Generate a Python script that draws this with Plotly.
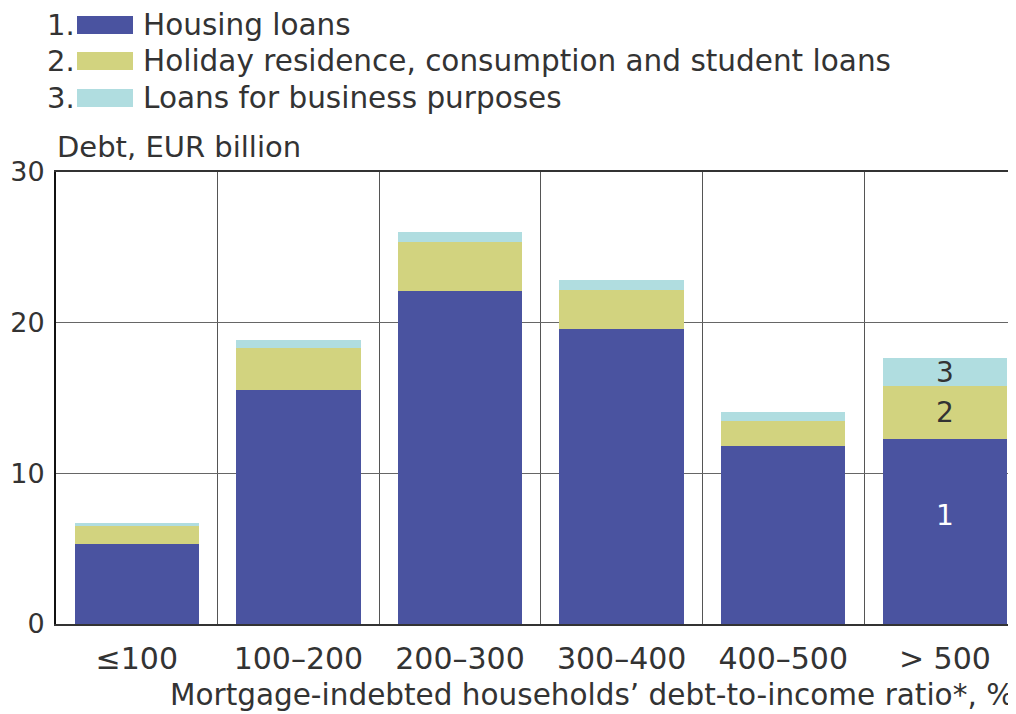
import plotly.graph_objects as go

categories = ["≤100", "100–200", "200–300", "300–400", "400–500", "> 500"]
housing = [5.3, 15.5, 22.1, 19.6, 11.8, 12.25]
holiday = [1.2, 2.85, 3.25, 2.55, 1.65, 3.55]
business = [0.2, 0.5, 0.65, 0.7, 0.6, 1.85]
series_names = ["Housing loans", "Holiday residence, consumption and student loans", "Loans for business purposes"]
colors = ["#4a53a0", "#d2d37f", "#b0dde0"]
y_ticks = [0, 10, 20, 30]

# the page body has an 8px default margin: work in window pixels, shift by OFF
OFF = 8
W, H = 1016 - OFF, 714 - OFF
ML, MR, MT, MB = 56 - OFF, 0, 172 - OFF, 90
FONT = "DejaVu Sans"
TXT = "#333333"

def px2x(px):
    return (px - OFF - ML) / (W - ML - MR)

def py2y(py):
    return (H - MB - (py - OFF)) / (H - MT - MB)

fig = go.Figure()
for name, vals, col in zip(series_names, [housing, holiday, business], colors):
    fig.add_trace(go.Bar(x=categories, y=vals, name=name, marker=dict(color=col, line=dict(width=0)),
                         showlegend=False, hoverinfo="y"))

# segment labels in last bar
last = len(categories) - 1
lab_y = [housing[last] * 0.59,
         housing[last] + holiday[last] / 2,
         housing[last] + holiday[last] + business[last] / 2]
lab_col = ["white", TXT, TXT]
for i, (yv, c) in enumerate(zip(lab_y, lab_col)):
    fig.add_annotation(x=categories[last], y=yv, text=str(i + 1), showarrow=False,
                       font=dict(family=FONT, size=28, color=c))

# custom legend
leg_y = [25, 61, 98]
for i, (name, col, yy) in enumerate(zip(series_names, colors, leg_y)):
    fig.add_shape(type="rect", xref="paper", yref="paper",
                  x0=px2x(77), x1=px2x(133), y0=py2y(yy - 9), y1=py2y(yy + 9),
                  fillcolor=col, line=dict(width=0))
    fig.add_annotation(xref="paper", yref="paper", x=px2x(77), y=py2y(yy), xanchor="right",
                       yanchor="middle", text=f"{i + 1}.", showarrow=False,
                       font=dict(family=FONT, size=29, color=TXT))
    fig.add_annotation(xref="paper", yref="paper", x=px2x(141), y=py2y(yy), xanchor="left",
                       yanchor="middle", text=name, showarrow=False,
                       font=dict(family=FONT, size=29.5, color=TXT))

fig.add_annotation(xref="paper", yref="paper", x=px2x(55), y=py2y(147), xanchor="left",
                   yanchor="middle", text="Debt, EUR billion", showarrow=False,
                   font=dict(family=FONT, size=29, color=TXT))
fig.add_annotation(xref="paper", yref="paper", x=1.0, y=py2y(695), xanchor="right",
                   yanchor="middle", text="Mortgage-indebted households’ debt-to-income ratio*, %",
                   showarrow=False, font=dict(family=FONT, size=29.5, color=TXT))

fig.update_layout(
    width=W, height=H,
    margin=dict(l=ML, r=MR, t=MT, b=MB, pad=0, autoexpand=False),
    paper_bgcolor="white", plot_bgcolor="white",
    barmode="stack", bargap=0.23,
    font=dict(family=FONT, size=28, color=TXT),
    xaxis=dict(type="category", range=[-0.5, 5.44], tickson="boundaries", showgrid=True,
               gridcolor="#555555", gridwidth=1, showline=True, linecolor="#333333", linewidth=2,
               mirror=True, ticks="", ticklabelstandoff=7, automargin=False,
               tickfont=dict(family=FONT, size=30, color=TXT)),
    yaxis=dict(range=[0, 30], tickvals=y_ticks, showgrid=True, gridcolor="#666666", gridwidth=1,
               showline=True, linecolor="#111111", linewidth=2, zeroline=False, ticks="",
               ticklabelstandoff=4, automargin=False,
               tickfont=dict(family=FONT, size=27, color=TXT)),
)

fig.write_html("out.html")
